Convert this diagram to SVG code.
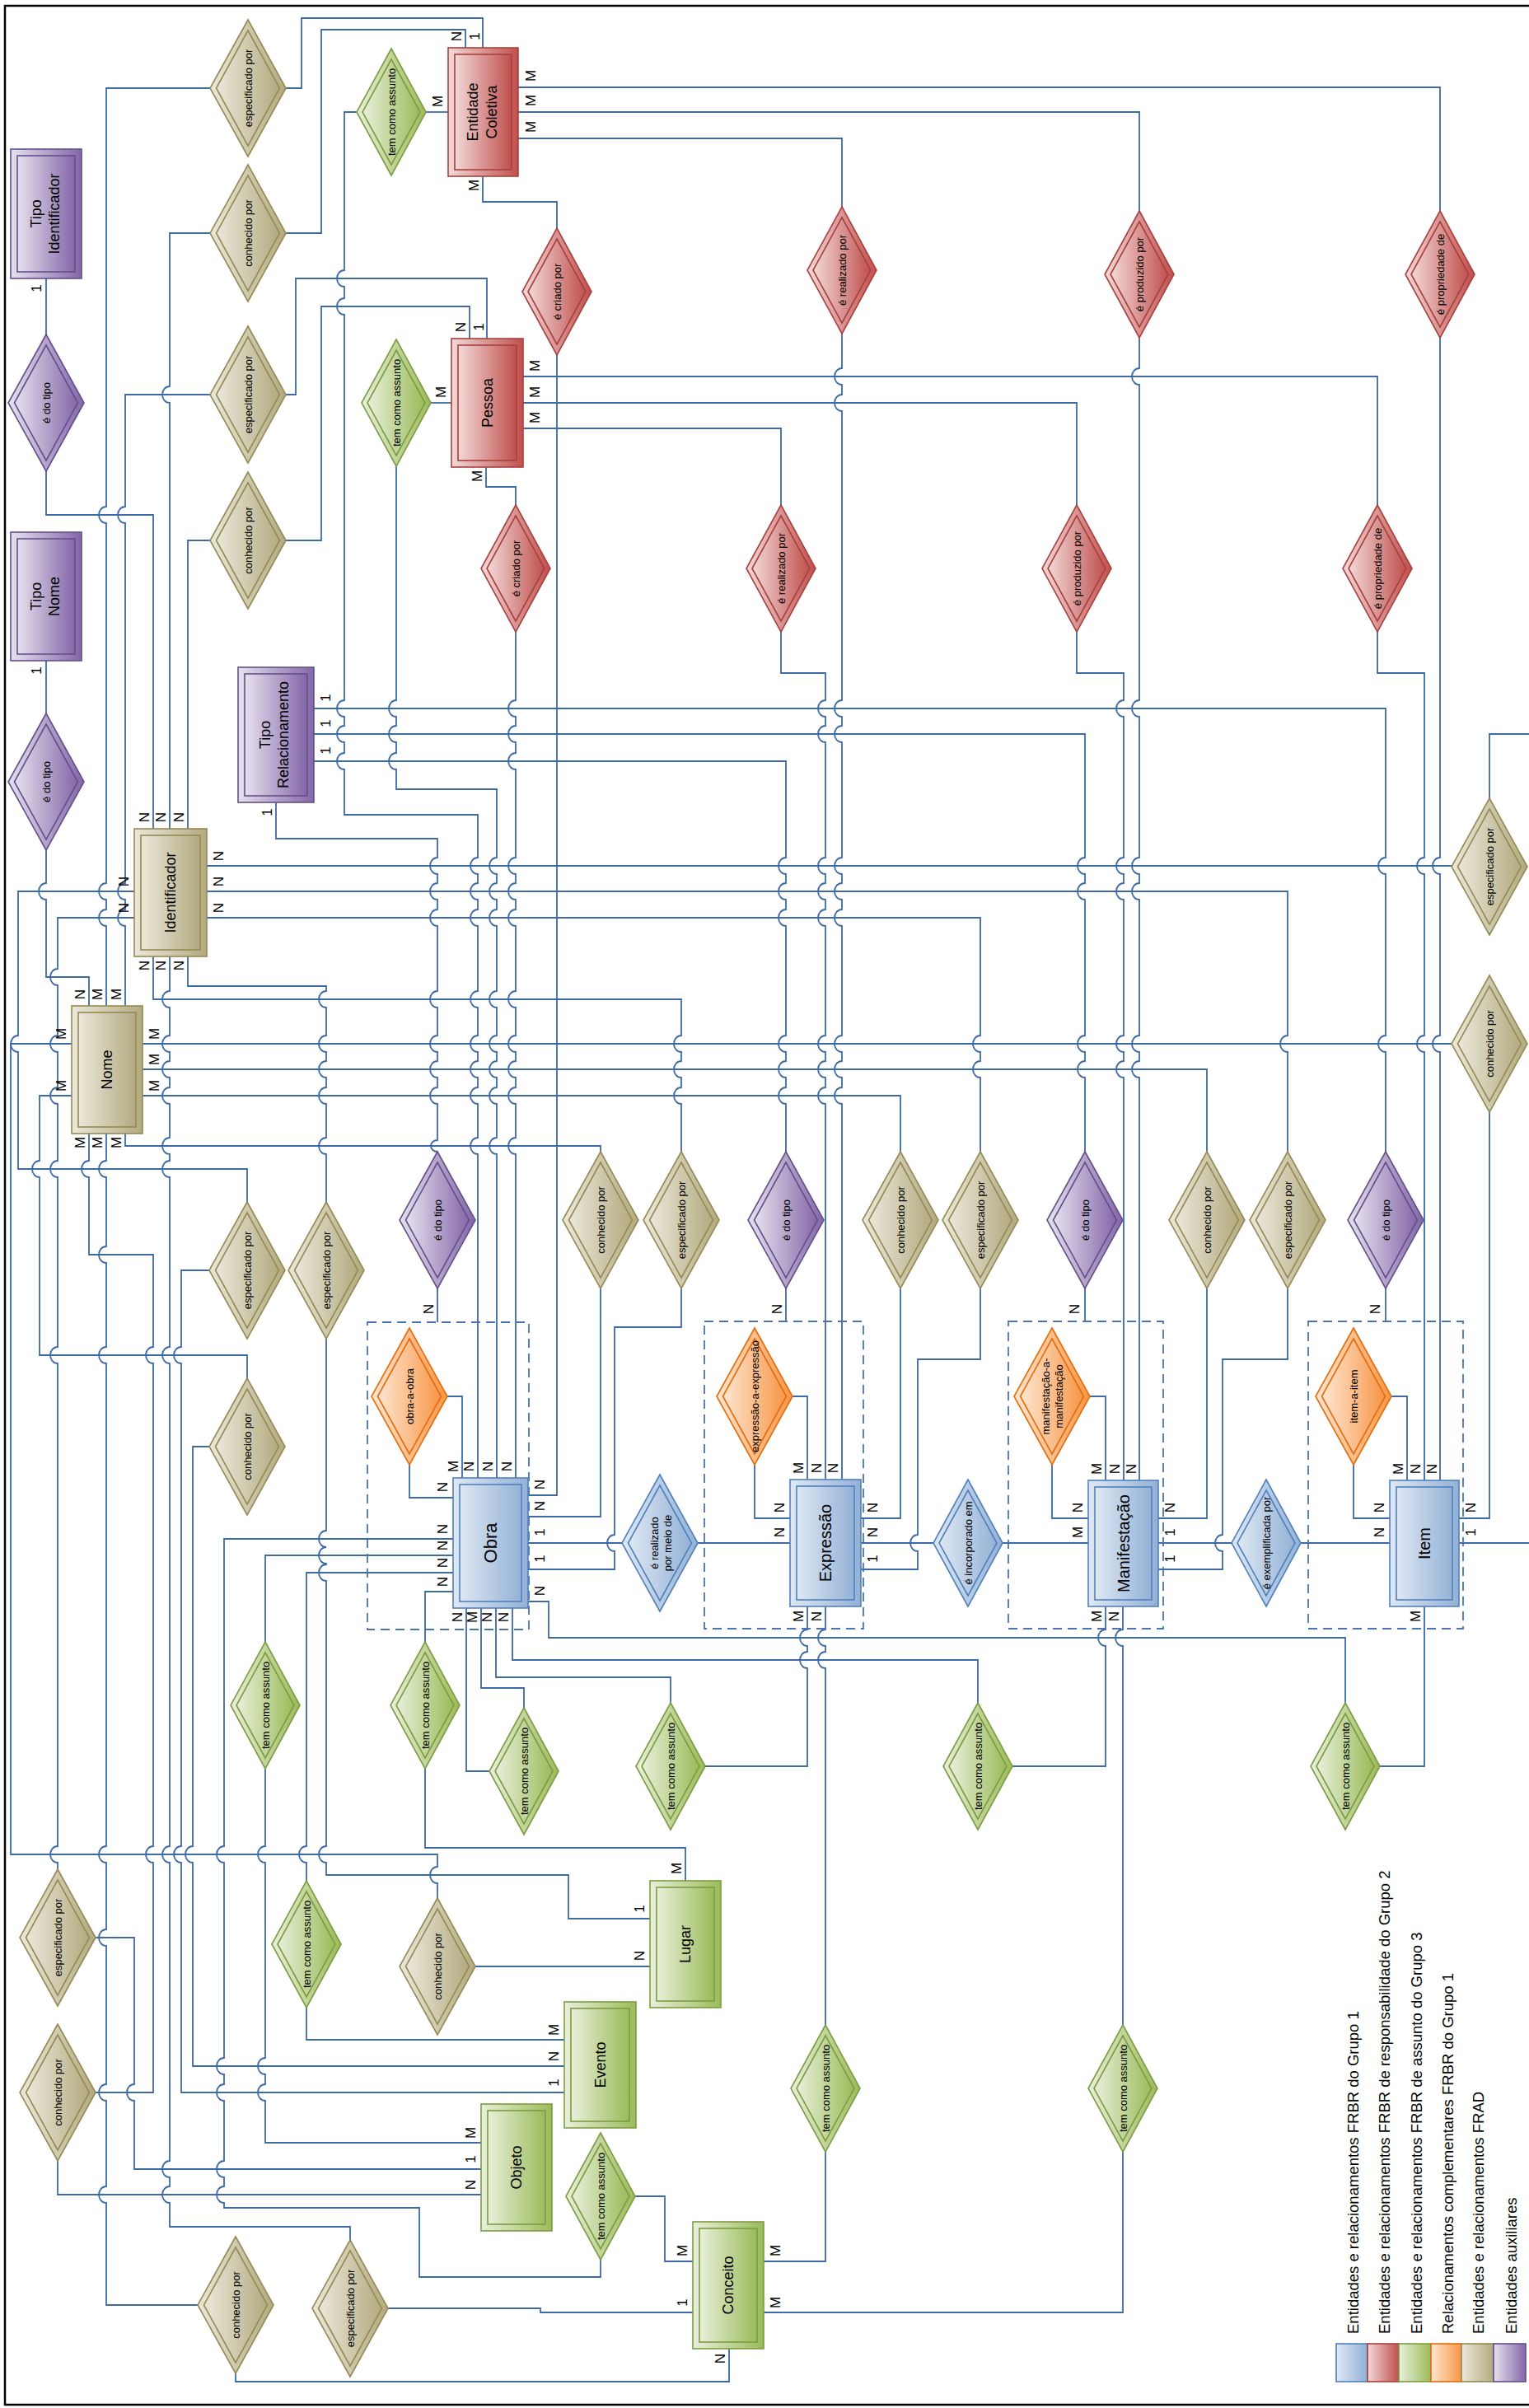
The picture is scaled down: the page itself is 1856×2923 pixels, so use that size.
<svg xmlns="http://www.w3.org/2000/svg" width="1856" height="2923" viewBox="0 0 1856 2923">
<style>
.c{fill:none;stroke:#3d6aa6;stroke-width:1.8}
.dash{fill:none;stroke:#4a74ad;stroke-width:1.8;stroke-dasharray:11 7}
text{font-family:"Liberation Sans",Arial,sans-serif;fill:#000;text-anchor:middle;dominant-baseline:central}
.lb{font-size:17px}
.dt{font-size:13px}
.et{font-size:18px}
.eb{font-size:20px}
.lg{font-size:18.5px;text-anchor:start}
.blue{fill:url(#gB);stroke:#4f81bd;stroke-width:1.6}
.red{fill:url(#gR);stroke:#a9403d;stroke-width:1.6}
.green{fill:url(#gG);stroke:#7e9b43;stroke-width:1.6}
.orange{fill:url(#gO);stroke:#e46c0a;stroke-width:1.6}
.tan{fill:url(#gT);stroke:#948a54;stroke-width:1.6}
.purple{fill:url(#gP);stroke:#62508a;stroke-width:1.6}
</style>
<defs>
<linearGradient id="gB" x1="0" y1="0" x2="1" y2="0"><stop offset="0" stop-color="#dfe8f3"/><stop offset="1" stop-color="#93b1d6"/></linearGradient>
<linearGradient id="gR" x1="0" y1="0" x2="1" y2="0"><stop offset="0" stop-color="#f2d9d8"/><stop offset="1" stop-color="#c0504d"/></linearGradient>
<linearGradient id="gG" x1="0" y1="0" x2="1" y2="0"><stop offset="0" stop-color="#e8f0db"/><stop offset="1" stop-color="#9bbb59"/></linearGradient>
<linearGradient id="gO" x1="0" y1="0" x2="1" y2="0"><stop offset="0" stop-color="#fee6d2"/><stop offset="1" stop-color="#f79646"/></linearGradient>
<linearGradient id="gT" x1="0" y1="0" x2="1" y2="0"><stop offset="0" stop-color="#ebe8da"/><stop offset="1" stop-color="#b3aa80"/></linearGradient>
<linearGradient id="gP" x1="0" y1="0" x2="1" y2="0"><stop offset="0" stop-color="#e6e1ee"/><stop offset="1" stop-color="#8466a8"/></linearGradient>
<g id="dBig"><polygon points="0,-83 46,0 0,83 -46,0"/><polygon points="0,-70 38.5,0 0,70 -38.5,0"/></g>
<g id="dSm"><polygon points="0,-77 42,0 0,77 -42,0"/><polygon points="0,-64 35,0 0,64 -35,0"/></g>
</defs>
<rect width="1856" height="2923" fill="#fff"/>
<path d="M1856 7 H6 V2919 H1856" fill="none" stroke="#000" stroke-width="2.5"/>

<g id="connectors">
<path class="c" d="M56 338 V406"/>
<path class="c" d="M56 572 V625 H186 V1006"/>
<path class="c" d="M56 802 V866"/>
<path class="c" d="M56 1032 V1072 A9 10 0 0 0 56 1092 V1186 H108 V1221"/>
<path class="c" d="M255 107 H129 V615 A9 10 0 0 0 129 635 V1072 A9 10 0 0 0 129 1092 V1104 A9 10 0 0 0 129 1124 V1221"/>
<path class="c" d="M347 107 H366 V22 H586 V58"/>
<path class="c" d="M255 283 H206 V469 A9 10 0 0 0 206 489 V1006"/>
<path class="c" d="M347 283 H390 V36 H565 V58"/>
<path class="c" d="M255 479 H152 V615 A9 10 0 0 0 152 635 V1072 A9 10 0 0 0 152 1092 V1104 A9 10 0 0 0 152 1124 V1221"/>
<path class="c" d="M347 479 H359 V338 H591 V411"/>
<path class="c" d="M255 656 H228 V1006"/>
<path class="c" d="M347 656 H390 V372 H570 V411"/>
<path class="c" d="M517 136 H544"/>
<path class="c" d="M433 136 H418 V328 A9 10 0 0 0 418 348 V362 A9 10 0 0 0 418 382 V850 A9 10 0 0 0 418 870 V881 A9 10 0 0 0 418 901 V914 A9 10 0 0 0 418 934 V989 H580 V1041 A9 10 0 0 0 580 1061 V1072 A9 10 0 0 0 580 1092 V1104 A9 10 0 0 0 580 1124 V1203 A9 10 0 0 0 580 1223 V1257 A9 10 0 0 0 580 1277 V1288 A9 10 0 0 0 580 1308 V1320 A9 10 0 0 0 580 1340 V1381 A9 10 0 0 0 580 1401 V1794"/>
<path class="c" d="M523 489 H548"/>
<path class="c" d="M481 566 V850 A9 10 0 0 0 481 870 V881 A9 10 0 0 0 481 901 V914 A9 10 0 0 0 481 934 V958 H603 V1041 A9 10 0 0 0 603 1061 V1072 A9 10 0 0 0 603 1092 V1104 A9 10 0 0 0 603 1124 V1203 A9 10 0 0 0 603 1223 V1257 A9 10 0 0 0 603 1277 V1288 A9 10 0 0 0 603 1308 V1320 A9 10 0 0 0 603 1340 V1381 A9 10 0 0 0 603 1401 V1794"/>
<path class="c" d="M629 106 H1748 V256"/>
<path class="c" d="M629 136 H1383 V256"/>
<path class="c" d="M629 168 H1022 V251"/>
<path class="c" d="M586 214 V245 H676 V277"/>
<path class="c" d="M676 431 V1815 H641"/>
<path class="c" d="M1022 405 V447 A9 10 0 0 0 1022 467 V479 A9 10 0 0 0 1022 499 V850 A9 10 0 0 0 1022 870 V881 A9 10 0 0 0 1022 901 V1041 A9 10 0 0 0 1022 1061 V1072 A9 10 0 0 0 1022 1092 V1104 A9 10 0 0 0 1022 1124 V1257 A9 10 0 0 0 1022 1277 V1288 A9 10 0 0 0 1022 1308 V1320 A9 10 0 0 0 1022 1340 V1796"/>
<path class="c" d="M1383 410 V447 A9 10 0 0 0 1383 467 V850 A9 10 0 0 0 1383 870 V1041 A9 10 0 0 0 1383 1061 V1072 A9 10 0 0 0 1383 1092 V1257 A9 10 0 0 0 1383 1277 V1288 A9 10 0 0 0 1383 1308 V1797"/>
<path class="c" d="M1748 410 V1041 A9 10 0 0 0 1748 1061 V1257 A9 10 0 0 0 1748 1277 V1797"/>
<path class="c" d="M635 457 H1672 V613"/>
<path class="c" d="M635 489 H1307 V613"/>
<path class="c" d="M635 520 H948 V613"/>
<path class="c" d="M590 567 V591 H626 V613"/>
<path class="c" d="M626 767 V850 A9 10 0 0 0 626 870 V881 A9 10 0 0 0 626 901 V914 A9 10 0 0 0 626 934 V1041 A9 10 0 0 0 626 1061 V1072 A9 10 0 0 0 626 1092 V1104 A9 10 0 0 0 626 1124 V1203 A9 10 0 0 0 626 1223 V1257 A9 10 0 0 0 626 1277 V1288 A9 10 0 0 0 626 1308 V1320 A9 10 0 0 0 626 1340 V1381 A9 10 0 0 0 626 1401 V1794"/>
<path class="c" d="M948 767 V817 H1002 V850 A9 10 0 0 0 1002 870 V881 A9 10 0 0 0 1002 901 V1041 A9 10 0 0 0 1002 1061 V1072 A9 10 0 0 0 1002 1092 V1104 A9 10 0 0 0 1002 1124 V1257 A9 10 0 0 0 1002 1277 V1288 A9 10 0 0 0 1002 1308 V1320 A9 10 0 0 0 1002 1340 V1796"/>
<path class="c" d="M1307 767 V817 H1364 V850 A9 10 0 0 0 1364 870 V1041 A9 10 0 0 0 1364 1061 V1072 A9 10 0 0 0 1364 1092 V1257 A9 10 0 0 0 1364 1277 V1288 A9 10 0 0 0 1364 1308 V1797"/>
<path class="c" d="M1672 767 V817 H1729 V1041 A9 10 0 0 0 1729 1061 V1257 A9 10 0 0 0 1729 1277 V1797"/>
<path class="c" d="M335 974 V1018 H531 V1041 A9 10 0 0 0 531 1061 V1072 A9 10 0 0 0 531 1092 V1104 A9 10 0 0 0 531 1124 V1203 A9 10 0 0 0 531 1223 V1257 A9 10 0 0 0 531 1277 V1288 A9 10 0 0 0 531 1308 V1320 A9 10 0 0 0 531 1340 V1384 A8 7 0 0 0 531 1398"/>
<path class="c" d="M381 860 H1682 V1041 A9 10 0 0 0 1682 1061 V1257 A9 10 0 0 0 1682 1277 V1398"/>
<path class="c" d="M381 891 H1317 V1041 A9 10 0 0 0 1317 1061 V1072 A9 10 0 0 0 1317 1092 V1257 A9 10 0 0 0 1317 1277 V1288 A9 10 0 0 0 1317 1308 V1398"/>
<path class="c" d="M381 924 H954 V1041 A9 10 0 0 0 954 1061 V1072 A9 10 0 0 0 954 1092 V1104 A9 10 0 0 0 954 1124 V1257 A9 10 0 0 0 954 1277 V1288 A9 10 0 0 0 954 1308 V1320 A9 10 0 0 0 954 1340 V1398"/>
<path class="c" d="M531 1564 V1605"/>
<path class="c" d="M954 1564 V1604"/>
<path class="c" d="M1317 1564 V1604"/>
<path class="c" d="M1682 1564 V1604"/>
<path class="c" d="M543 1695 H561 V1794"/>
<path class="c" d="M497 1778 V1818 H550"/>
<path class="c" d="M962 1695 H980 V1796"/>
<path class="c" d="M916 1778 V1843 H959"/>
<path class="c" d="M1323 1695 H1342 V1797"/>
<path class="c" d="M1277 1778 V1843 H1321"/>
<path class="c" d="M1689 1695 H1708 V1797"/>
<path class="c" d="M1643 1778 V1843 H1687"/>
<path class="c" d="M641 1873 H755"/>
<path class="c" d="M847 1873 H959"/>
<path class="c" d="M1045 1873 H1133"/>
<path class="c" d="M1217 1873 H1321"/>
<path class="c" d="M1406 1873 H1495"/>
<path class="c" d="M1579 1873 H1687"/>
<path class="c" d="M1771 1873 H1856"/>
<path class="c" d="M641 1841 H729 V1564"/>
<path class="c" d="M641 1905 H746 V1883 A9 10 0 0 1 746 1863 V1611 H827 V1564"/>
<path class="c" d="M1045 1843 H1093 V1564"/>
<path class="c" d="M1045 1905 H1114 V1883 A9 10 0 0 1 1114 1863 V1650 H1190 V1564"/>
<path class="c" d="M1406 1843 H1465 V1564"/>
<path class="c" d="M1406 1905 H1484 V1883 A9 10 0 0 1 1484 1863 V1650 H1563 V1564"/>
<path class="c" d="M1771 1843 H1808 V1350"/>
<path class="c" d="M1808 969 V891 H1856"/>
<path class="c" d="M251 1051 H1762"/>
<path class="c" d="M251 1082 H1563 V1257 A9 10 0 0 0 1563 1277 V1398"/>
<path class="c" d="M251 1114 H1190 V1257 A9 10 0 0 0 1190 1277 V1288 A9 10 0 0 0 1190 1308 V1398"/>
<path class="c" d="M173 1267 H1762"/>
<path class="c" d="M173 1298 H1465 V1398"/>
<path class="c" d="M173 1330 H1093 V1398"/>
<path class="c" d="M186 1161 V1213 H827 V1257 A9 10 0 0 0 827 1277 V1288 A9 10 0 0 0 827 1308 V1320 A9 10 0 0 0 827 1340 V1398"/>
<path class="c" d="M206 1161 V1203 A9 10 0 0 0 206 1223 V1257 A9 10 0 0 0 206 1277 V1288 A9 10 0 0 0 206 1308 V1320 A9 10 0 0 0 206 1340 V1381 A9 10 0 0 0 206 1401 V1409 A9 10 0 0 0 206 1429 V1635 A9 10 0 0 0 206 1655 V2241 A9 10 0 0 0 206 2261 V2623 A9 10 0 0 0 206 2643 V2654 A9 10 0 0 0 206 2674 V2703 H425 V2719"/>
<path class="c" d="M228 1161 V1197 H396 V1203 A9 10 0 0 0 396 1223 V1257 A9 10 0 0 0 396 1277 V1288 A9 10 0 0 0 396 1308 V1320 A9 10 0 0 0 396 1340 V1381 A9 10 0 0 0 396 1401 V1459"/>
<path class="c" d="M396 1625 V1858 A9 10 0 0 0 396 1878 A9 10 0 0 0 396 1898 V1899 A9 10 0 0 0 396 1919 V2241 A9 10 0 0 0 396 2261 V2276 H690 V2329 H789"/>
<path class="c" d="M108 1376 V1409 A9 10 0 0 0 108 1429 V1523 H186 V1635 A9 10 0 0 0 186 1655 V2241 A9 10 0 0 0 186 2261 V2540 H116"/>
<path class="c" d="M129 1376 V1409 A9 10 0 0 0 129 1429 V1513 A9 10 0 0 0 129 1533 V1635 A9 10 0 0 0 129 1655 V2241 A9 10 0 0 0 129 2261 V2342 A9 10 0 0 0 129 2362 V2530 A9 10 0 0 0 129 2550 V2654 A9 10 0 0 0 129 2674 V2798 H240"/>
<path class="c" d="M152 1376 V1391 H729 V1398"/>
<path class="c" d="M87 1267 H13 V2251 H531 V2266 A9 10 0 0 0 531 2286 V2304"/>
<path class="c" d="M87 1330 H48 V1409 A9 10 0 0 0 48 1429 V1645 H300 V1673"/>
<path class="c" d="M163 1082 H22 V1257 A9 10 0 0 0 22 1277 V1419 H300 V1459"/>
<path class="c" d="M163 1114 H70 V1176 A9 10 0 0 0 70 1196 V1257 A9 10 0 0 0 70 1277 V1320 A9 10 0 0 0 70 1340 V1409 A9 10 0 0 0 70 1429 V1635 A9 10 0 0 0 70 1655 V2241 A9 10 0 0 0 70 2261 V2269"/>
<path class="c" d="M254 1542 H220 V1635 A9 10 0 0 0 220 1655 V2241 A9 10 0 0 0 220 2261 V2540 H685"/>
<path class="c" d="M254 1756 H234 V2241 A9 10 0 0 0 234 2261 V2508 H685"/>
<path class="c" d="M550 1888 H322 V1993"/>
<path class="c" d="M322 2147 V2241 A9 10 0 0 0 322 2261 V2498 A9 10 0 0 0 322 2518 V2530 A9 10 0 0 0 322 2550 V2601 H584"/>
<path class="c" d="M550 1909 H372 V2241 A9 10 0 0 0 372 2261 V2283"/>
<path class="c" d="M372 2437 V2476 H685"/>
<path class="c" d="M550 1932 H516 V1993"/>
<path class="c" d="M516 2147 V2243 H832 V2283"/>
<path class="c" d="M550 1868 H272 V2241 A9 10 0 0 0 272 2261 V2498 A9 10 0 0 0 272 2518 V2530 A9 10 0 0 0 272 2550 V2623 A9 10 0 0 0 272 2643 V2654 A9 10 0 0 0 272 2674 V2680 H509 V2764 H729 V2743"/>
<path class="c" d="M771 2666 H807 V2745 H841"/>
<path class="c" d="M471 2802 H656 V2807 H841"/>
<path class="c" d="M286 2881 V2891 H885 V2851"/>
<path class="c" d="M980 1950 V1978 A9 10 0 0 0 980 1998 V2005 A9 10 0 0 0 980 2025 V2144 H856"/>
<path class="c" d="M1002 1950 V1978 A9 10 0 0 0 1002 1998 V2005 A9 10 0 0 0 1002 2025 V2458"/>
<path class="c" d="M1002 2612 V2745 H927"/>
<path class="c" d="M1342 1950 V1978 A9 10 0 0 0 1342 1998 V2144 H1229"/>
<path class="c" d="M1363 1950 V1978 A9 10 0 0 0 1363 1998 V2458"/>
<path class="c" d="M1363 2612 V2807 H927"/>
<path class="c" d="M1729 1950 V2144 H1675"/>
<path class="c" d="M641 1944 H666 V1988 H1633 V2067"/>
<path class="c" d="M566 1952 V2150 H594"/>
<path class="c" d="M584 1952 V2049 H636 V2073"/>
<path class="c" d="M602 1952 V2036 H814 V2067"/>
<path class="c" d="M622 1952 V2015 H1187 V2067"/>
<path class="c" d="M116 2352 H163 V2530 A9 10 0 0 0 163 2550 V2633 H584"/>
<path class="c" d="M70 2623 V2664 H584"/>
<path class="c" d="M577 2387 H789"/>
</g>

<g id="groups">
<rect class="dash" x="446" y="1605" width="196" height="373"/>
<rect class="dash" x="855" y="1604" width="193" height="373"/>
<rect class="dash" x="1224" y="1604" width="188" height="373"/>
<rect class="dash" x="1588" y="1604" width="188" height="373"/>
</g>

<g id="tipo-identificador"><rect class="purple" x="13" y="181" width="86" height="157"/><rect class="purple" x="21" y="189" width="70" height="141"/><text class="et" transform="translate(56 259.5) rotate(-90)"><tspan x="0" y="-12">Tipo</tspan><tspan x="0" y="10">Identificador</tspan></text></g>
<g id="tipo-nome"><rect class="purple" x="13" y="646" width="86" height="156"/><rect class="purple" x="21" y="654" width="70" height="140"/><text class="et" transform="translate(56 724) rotate(-90)"><tspan x="0" y="-12">Tipo</tspan><tspan x="0" y="10">Nome</tspan></text></g>
<g id="tipo-relacionamento"><rect class="purple" x="289" y="810" width="92" height="164"/><rect class="purple" x="297" y="818" width="76" height="148"/><text class="et" transform="translate(335 892) rotate(-90)"><tspan x="0" y="-13">Tipo</tspan><tspan x="0" y="9">Relacionamento</tspan></text></g>
<g id="identificador"><rect class="tan" x="163" y="1006" width="88" height="155"/><rect class="tan" x="171" y="1014" width="72" height="139"/><text class="et" transform="translate(207 1083.5) rotate(-90)">Identificador</text></g>
<g id="nome"><rect class="tan" x="87" y="1221" width="86" height="155"/><rect class="tan" x="95" y="1229" width="70" height="139"/><text class="et" transform="translate(130 1298.5) rotate(-90)">Nome</text></g>
<g id="entidade-coletiva"><rect class="red" x="544" y="58" width="85" height="156"/><rect class="red" x="552" y="66" width="69" height="140"/><text class="et" transform="translate(586.5 136) rotate(-90)"><tspan x="0" y="-13">Entidade</tspan><tspan x="0" y="10">Coletiva</tspan></text></g>
<g id="pessoa"><rect class="red" x="548" y="411" width="87" height="156"/><rect class="red" x="556" y="419" width="71" height="140"/><text class="et" transform="translate(591.5 489) rotate(-90)">Pessoa</text></g>
<g id="obra"><rect class="blue" x="550" y="1794" width="91" height="158"/><rect class="blue" x="558" y="1802" width="75" height="142"/><text class="eb" style="font-size:22px" transform="translate(595.5 1873) rotate(-90)">Obra</text></g>
<g id="expressao"><rect class="blue" x="959" y="1796" width="86" height="154"/><rect class="blue" x="967" y="1804" width="70" height="138"/><text class="eb" transform="translate(1002 1873) rotate(-90)">Expressão</text></g>
<g id="manifestacao"><rect class="blue" x="1321" y="1797" width="85" height="153"/><rect class="blue" x="1329" y="1805" width="69" height="137"/><text class="eb" transform="translate(1363.5 1873.5) rotate(-90)">Manifestação</text></g>
<g id="item"><rect class="blue" x="1687" y="1797" width="84" height="153"/><rect class="blue" x="1695" y="1805" width="68" height="137"/><text class="eb" transform="translate(1729 1873.5) rotate(-90)">Item</text></g>
<g id="lugar"><rect class="green" x="789" y="2283" width="86" height="154"/><rect class="green" x="797" y="2291" width="70" height="138"/><text class="et" transform="translate(832 2360) rotate(-90)">Lugar</text></g>
<g id="evento"><rect class="green" x="685" y="2430" width="87" height="153"/><rect class="green" x="693" y="2438" width="71" height="137"/><text class="et" transform="translate(728.5 2506.5) rotate(-90)">Evento</text></g>
<g id="objeto"><rect class="green" x="584" y="2554" width="86" height="154"/><rect class="green" x="592" y="2562" width="70" height="138"/><text class="et" transform="translate(627 2631) rotate(-90)">Objeto</text></g>
<g id="conceito"><rect class="green" x="841" y="2697" width="86" height="154"/><rect class="green" x="849" y="2705" width="70" height="138"/><text class="et" transform="translate(884 2774) rotate(-90)">Conceito</text></g>

<g id="e-do-tipo-1"><use href="#dBig" x="56" y="489" class="purple"/><text class="dt" transform="translate(56 489) rotate(-90)">é do tipo</text></g>
<g id="e-do-tipo-2"><use href="#dBig" x="56" y="949" class="purple"/><text class="dt" transform="translate(56 949) rotate(-90)">é do tipo</text></g>
<g id="e-do-tipo-3"><use href="#dBig" x="531" y="1481" class="purple"/><text class="dt" transform="translate(531 1481) rotate(-90)">é do tipo</text></g>
<g id="e-do-tipo-4"><use href="#dBig" x="954" y="1481" class="purple"/><text class="dt" transform="translate(954 1481) rotate(-90)">é do tipo</text></g>
<g id="e-do-tipo-5"><use href="#dBig" x="1317" y="1481" class="purple"/><text class="dt" transform="translate(1317 1481) rotate(-90)">é do tipo</text></g>
<g id="e-do-tipo-6"><use href="#dBig" x="1682" y="1481" class="purple"/><text class="dt" transform="translate(1682 1481) rotate(-90)">é do tipo</text></g>

<g id="esp-1"><use href="#dBig" x="301" y="107" class="tan"/><text class="dt" transform="translate(301 107) rotate(-90)">especificado por</text></g>
<g id="conh-2"><use href="#dBig" x="301" y="283" class="tan"/><text class="dt" transform="translate(301 283) rotate(-90)">conhecido por</text></g>
<g id="esp-3"><use href="#dBig" x="301" y="479" class="tan"/><text class="dt" transform="translate(301 479) rotate(-90)">especificado por</text></g>
<g id="conh-4"><use href="#dBig" x="301" y="656" class="tan"/><text class="dt" transform="translate(301 656) rotate(-90)">conhecido por</text></g>
<g id="conh-5"><use href="#dBig" x="729" y="1481" class="tan"/><text class="dt" transform="translate(729 1481) rotate(-90)">conhecido por</text></g>
<g id="esp-6"><use href="#dBig" x="827" y="1481" class="tan"/><text class="dt" transform="translate(827 1481) rotate(-90)">especificado por</text></g>
<g id="conh-7"><use href="#dBig" x="1093" y="1481" class="tan"/><text class="dt" transform="translate(1093 1481) rotate(-90)">conhecido por</text></g>
<g id="esp-8"><use href="#dBig" x="1190" y="1481" class="tan"/><text class="dt" transform="translate(1190 1481) rotate(-90)">especificado por</text></g>
<g id="conh-9"><use href="#dBig" x="1465" y="1481" class="tan"/><text class="dt" transform="translate(1465 1481) rotate(-90)">conhecido por</text></g>
<g id="esp-10"><use href="#dBig" x="1563" y="1481" class="tan"/><text class="dt" transform="translate(1563 1481) rotate(-90)">especificado por</text></g>
<g id="esp-11"><use href="#dBig" x="1808" y="1052" class="tan"/><text class="dt" transform="translate(1808 1052) rotate(-90)">especificado por</text></g>
<g id="conh-12"><use href="#dBig" x="1808" y="1267" class="tan"/><text class="dt" transform="translate(1808 1267) rotate(-90)">conhecido por</text></g>
<g id="esp-13"><use href="#dBig" x="300" y="1542" class="tan"/><text class="dt" transform="translate(300 1542) rotate(-90)">especificado por</text></g>
<g id="esp-14"><use href="#dBig" x="396" y="1542" class="tan"/><text class="dt" transform="translate(396 1542) rotate(-90)">especificado por</text></g>
<g id="conh-15"><use href="#dBig" x="300" y="1756" class="tan"/><text class="dt" transform="translate(300 1756) rotate(-90)">conhecido por</text></g>
<g id="esp-16"><use href="#dBig" x="70" y="2352" class="tan"/><text class="dt" transform="translate(70 2352) rotate(-90)">especificado por</text></g>
<g id="conh-17"><use href="#dBig" x="70" y="2540" class="tan"/><text class="dt" transform="translate(70 2540) rotate(-90)">conhecido por</text></g>
<g id="conh-18"><use href="#dBig" x="531" y="2387" class="tan"/><text class="dt" transform="translate(531 2387) rotate(-90)">conhecido por</text></g>
<g id="conh-19"><use href="#dBig" x="286" y="2798" class="tan"/><text class="dt" transform="translate(286 2798) rotate(-90)">conhecido por</text></g>
<g id="esp-20"><use href="#dBig" x="425" y="2802" class="tan"/><text class="dt" transform="translate(425 2802) rotate(-90)">especificado por</text></g>

<g id="assunto-1"><use href="#dSm" x="475" y="136" class="green"/><text class="dt" transform="translate(475 136) rotate(-90)">tem como assunto</text></g>
<g id="assunto-2"><use href="#dSm" x="481" y="489" class="green"/><text class="dt" transform="translate(481 489) rotate(-90)">tem como assunto</text></g>
<g id="assunto-3"><use href="#dSm" x="322" y="2070" class="green"/><text class="dt" transform="translate(322 2070) rotate(-90)">tem como assunto</text></g>
<g id="assunto-4"><use href="#dSm" x="516" y="2070" class="green"/><text class="dt" transform="translate(516 2070) rotate(-90)">tem como assunto</text></g>
<g id="assunto-5"><use href="#dSm" x="636" y="2150" class="green"/><text class="dt" transform="translate(636 2150) rotate(-90)">tem como assunto</text></g>
<g id="assunto-6"><use href="#dSm" x="814" y="2144" class="green"/><text class="dt" transform="translate(814 2144) rotate(-90)">tem como assunto</text></g>
<g id="assunto-7"><use href="#dSm" x="1187" y="2144" class="green"/><text class="dt" transform="translate(1187 2144) rotate(-90)">tem como assunto</text></g>
<g id="assunto-8"><use href="#dSm" x="1633" y="2144" class="green"/><text class="dt" transform="translate(1633 2144) rotate(-90)">tem como assunto</text></g>
<g id="assunto-9"><use href="#dSm" x="372" y="2360" class="green"/><text class="dt" transform="translate(372 2360) rotate(-90)">tem como assunto</text></g>
<g id="assunto-10"><use href="#dSm" x="729" y="2666" class="green"/><text class="dt" transform="translate(729 2666) rotate(-90)">tem como assunto</text></g>
<g id="assunto-11"><use href="#dSm" x="1002" y="2535" class="green"/><text class="dt" transform="translate(1002 2535) rotate(-90)">tem como assunto</text></g>
<g id="assunto-12"><use href="#dSm" x="1363" y="2535" class="green"/><text class="dt" transform="translate(1363 2535) rotate(-90)">tem como assunto</text></g>

<g id="criado-1"><use href="#dSm" x="676" y="354" class="red"/><text class="dt" transform="translate(676 354) rotate(-90)">é criado por</text></g>
<g id="realizado-1"><use href="#dSm" x="1022" y="328" class="red"/><text class="dt" transform="translate(1022 328) rotate(-90)">é realizado por</text></g>
<g id="produzido-1"><use href="#dSm" x="1383" y="333" class="red"/><text class="dt" transform="translate(1383 333) rotate(-90)">é produzido por</text></g>
<g id="propriedade-1"><use href="#dSm" x="1748" y="333" class="red"/><text class="dt" transform="translate(1748 333) rotate(-90)">é propriedade de</text></g>
<g id="criado-2"><use href="#dSm" x="626" y="690" class="red"/><text class="dt" transform="translate(626 690) rotate(-90)">é criado por</text></g>
<g id="realizado-2"><use href="#dSm" x="948" y="690" class="red"/><text class="dt" transform="translate(948 690) rotate(-90)">é realizado por</text></g>
<g id="produzido-2"><use href="#dSm" x="1307" y="690" class="red"/><text class="dt" transform="translate(1307 690) rotate(-90)">é produzido por</text></g>
<g id="propriedade-2"><use href="#dSm" x="1672" y="690" class="red"/><text class="dt" transform="translate(1672 690) rotate(-90)">é propriedade de</text></g>

<g id="realizado-meio"><use href="#dBig" x="801" y="1873" class="blue"/><text class="dt" transform="translate(801 1873) rotate(-90)"><tspan x="0" y="-7">é realizado</tspan><tspan x="0" y="9">por meio de</tspan></text></g>
<g id="incorporado"><use href="#dSm" x="1175" y="1873" class="blue"/><text class="dt" transform="translate(1175 1873) rotate(-90)">é incorporado em</text></g>
<g id="exemplificada"><use href="#dSm" x="1537" y="1873" class="blue"/><text class="dt" transform="translate(1537 1873) rotate(-90)">é exemplificada por</text></g>

<g id="obra-a-obra"><use href="#dBig" x="497" y="1695" class="orange"/><text class="dt" transform="translate(497 1695) rotate(-90)">obra-a-obra</text></g>
<g id="expressao-a-expressao"><use href="#dBig" x="916" y="1695" class="orange"/><text class="dt" transform="translate(916 1695) rotate(-90)">expressão-a-expressão</text></g>
<g id="manifestacao-a-manifestacao"><use href="#dBig" x="1277" y="1695" class="orange"/><text class="dt" transform="translate(1277 1695) rotate(-90)"><tspan x="0" y="-8">manifestação-a-</tspan><tspan x="0" y="8">manifestação</tspan></text></g>
<g id="item-a-item"><use href="#dBig" x="1643" y="1695" class="orange"/><text class="dt" transform="translate(1643 1695) rotate(-90)">item-a-item</text></g>

<g id="cardinalities">
<text class="lb" transform="translate(44 350) rotate(-90)">1</text>
<text class="lb" transform="translate(44 814) rotate(-90)">1</text>
<text class="lb" transform="translate(175 992) rotate(-90)">N</text>
<text class="lb" transform="translate(195 992) rotate(-90)">N</text>
<text class="lb" transform="translate(217 992) rotate(-90)">N</text>
<text class="lb" transform="translate(175 1172) rotate(-90)">N</text>
<text class="lb" transform="translate(195 1172) rotate(-90)">N</text>
<text class="lb" transform="translate(217 1172) rotate(-90)">N</text>
<text class="lb" transform="translate(150 1070) rotate(-90)">N</text>
<text class="lb" transform="translate(150 1102) rotate(-90)">N</text>
<text class="lb" transform="translate(265 1039) rotate(-90)">N</text>
<text class="lb" transform="translate(265 1070) rotate(-90)">N</text>
<text class="lb" transform="translate(265 1102) rotate(-90)">N</text>
<text class="lb" transform="translate(97 1207) rotate(-90)">N</text>
<text class="lb" transform="translate(118 1207) rotate(-90)">M</text>
<text class="lb" transform="translate(141 1207) rotate(-90)">M</text>
<text class="lb" transform="translate(97 1387) rotate(-90)">M</text>
<text class="lb" transform="translate(118 1387) rotate(-90)">M</text>
<text class="lb" transform="translate(141 1387) rotate(-90)">M</text>
<text class="lb" transform="translate(74 1255) rotate(-90)">M</text>
<text class="lb" transform="translate(74 1318) rotate(-90)">M</text>
<text class="lb" transform="translate(187 1255) rotate(-90)">M</text>
<text class="lb" transform="translate(187 1286) rotate(-90)">M</text>
<text class="lb" transform="translate(187 1318) rotate(-90)">M</text>
<text class="lb" transform="translate(554 44) rotate(-90)">N</text>
<text class="lb" transform="translate(576 44) rotate(-90)">1</text>
<text class="lb" transform="translate(531 123) rotate(-90)">M</text>
<text class="lb" transform="translate(644 92) rotate(-90)">M</text>
<text class="lb" transform="translate(644 122) rotate(-90)">M</text>
<text class="lb" transform="translate(644 154) rotate(-90)">M</text>
<text class="lb" transform="translate(575 225) rotate(-90)">M</text>
<text class="lb" transform="translate(559 397) rotate(-90)">N</text>
<text class="lb" transform="translate(581 397) rotate(-90)">1</text>
<text class="lb" transform="translate(535 476) rotate(-90)">M</text>
<text class="lb" transform="translate(649 444) rotate(-90)">M</text>
<text class="lb" transform="translate(649 476) rotate(-90)">M</text>
<text class="lb" transform="translate(649 507) rotate(-90)">M</text>
<text class="lb" transform="translate(579 578) rotate(-90)">M</text>
<text class="lb" transform="translate(395 847) rotate(-90)">1</text>
<text class="lb" transform="translate(395 878) rotate(-90)">1</text>
<text class="lb" transform="translate(395 911) rotate(-90)">1</text>
<text class="lb" transform="translate(324 986) rotate(-90)">1</text>
<text class="lb" transform="translate(520 1589) rotate(-90)">N</text>
<text class="lb" transform="translate(943 1589) rotate(-90)">N</text>
<text class="lb" transform="translate(1304 1589) rotate(-90)">N</text>
<text class="lb" transform="translate(1669 1589) rotate(-90)">N</text>
<text class="lb" transform="translate(550 1780) rotate(-90)">M</text>
<text class="lb" transform="translate(569 1780) rotate(-90)">N</text>
<text class="lb" transform="translate(592 1780) rotate(-90)">N</text>
<text class="lb" transform="translate(615 1780) rotate(-90)">N</text>
<text class="lb" transform="translate(537 1805) rotate(-90)">N</text>
<text class="lb" transform="translate(537 1856) rotate(-90)">N</text>
<text class="lb" transform="translate(537 1876) rotate(-90)">N</text>
<text class="lb" transform="translate(537 1897) rotate(-90)">N</text>
<text class="lb" transform="translate(537 1920) rotate(-90)">N</text>
<text class="lb" transform="translate(655 1802) rotate(-90)">N</text>
<text class="lb" transform="translate(655 1828) rotate(-90)">N</text>
<text class="lb" transform="translate(655 1860) rotate(-90)">1</text>
<text class="lb" transform="translate(655 1892) rotate(-90)">1</text>
<text class="lb" transform="translate(655 1931) rotate(-90)">N</text>
<text class="lb" transform="translate(555 1963) rotate(-90)">N</text>
<text class="lb" transform="translate(573 1963) rotate(-90)">M</text>
<text class="lb" transform="translate(591 1963) rotate(-90)">N</text>
<text class="lb" transform="translate(611 1963) rotate(-90)">N</text>
<text class="lb" transform="translate(969 1782) rotate(-90)">M</text>
<text class="lb" transform="translate(991 1782) rotate(-90)">N</text>
<text class="lb" transform="translate(1011 1782) rotate(-90)">N</text>
<text class="lb" transform="translate(946 1830) rotate(-90)">N</text>
<text class="lb" transform="translate(946 1860) rotate(-90)">N</text>
<text class="lb" transform="translate(1059 1830) rotate(-90)">N</text>
<text class="lb" transform="translate(1059 1860) rotate(-90)">N</text>
<text class="lb" transform="translate(1059 1892) rotate(-90)">1</text>
<text class="lb" transform="translate(969 1962) rotate(-90)">M</text>
<text class="lb" transform="translate(991 1962) rotate(-90)">N</text>
<text class="lb" transform="translate(1331 1783) rotate(-90)">M</text>
<text class="lb" transform="translate(1353 1783) rotate(-90)">N</text>
<text class="lb" transform="translate(1373 1783) rotate(-90)">N</text>
<text class="lb" transform="translate(1308 1830) rotate(-90)">N</text>
<text class="lb" transform="translate(1308 1860) rotate(-90)">M</text>
<text class="lb" transform="translate(1420 1830) rotate(-90)">N</text>
<text class="lb" transform="translate(1420 1860) rotate(-90)">1</text>
<text class="lb" transform="translate(1420 1892) rotate(-90)">1</text>
<text class="lb" transform="translate(1331 1962) rotate(-90)">M</text>
<text class="lb" transform="translate(1352 1962) rotate(-90)">N</text>
<text class="lb" transform="translate(1697 1783) rotate(-90)">M</text>
<text class="lb" transform="translate(1718 1783) rotate(-90)">N</text>
<text class="lb" transform="translate(1738 1783) rotate(-90)">N</text>
<text class="lb" transform="translate(1674 1830) rotate(-90)">N</text>
<text class="lb" transform="translate(1674 1860) rotate(-90)">N</text>
<text class="lb" transform="translate(1785 1830) rotate(-90)">N</text>
<text class="lb" transform="translate(1785 1860) rotate(-90)">1</text>
<text class="lb" transform="translate(1718 1962) rotate(-90)">M</text>
<text class="lb" transform="translate(821 2268) rotate(-90)">M</text>
<text class="lb" transform="translate(776 2317) rotate(-90)">1</text>
<text class="lb" transform="translate(776 2374) rotate(-90)">N</text>
<text class="lb" transform="translate(672 2464) rotate(-90)">M</text>
<text class="lb" transform="translate(672 2496) rotate(-90)">N</text>
<text class="lb" transform="translate(672 2528) rotate(-90)">1</text>
<text class="lb" transform="translate(571 2589) rotate(-90)">M</text>
<text class="lb" transform="translate(571 2621) rotate(-90)">1</text>
<text class="lb" transform="translate(571 2652) rotate(-90)">N</text>
<text class="lb" transform="translate(828 2732) rotate(-90)">M</text>
<text class="lb" transform="translate(828 2795) rotate(-90)">1</text>
<text class="lb" transform="translate(941 2732) rotate(-90)">M</text>
<text class="lb" transform="translate(941 2795) rotate(-90)">M</text>
<text class="lb" transform="translate(874 2863) rotate(-90)">N</text>
</g>

<g id="legend">
<rect class="blue" x="1622" y="2845" width="38" height="46"/>
<rect class="red" x="1660" y="2845" width="38" height="46"/>
<rect class="green" x="1698" y="2845" width="39" height="46"/>
<rect class="orange" x="1737" y="2845" width="37" height="46"/>
<rect class="tan" x="1774" y="2845" width="39" height="46"/>
<rect class="purple" x="1813" y="2845" width="39" height="46"/>
<text class="lg" transform="translate(1642 2833) rotate(-90)">Entidades e relacionamentos FRBR do Grupo 1</text>
<text class="lg" transform="translate(1680 2833) rotate(-90)">Entidades e relacionamentos FRBR de responsabilidade do Grupo 2</text>
<text class="lg" transform="translate(1719 2833) rotate(-90)">Entidades e relacionamentos FRBR de assunto do Grupo 3</text>
<text class="lg" transform="translate(1757 2833) rotate(-90)">Relacionamentos complementares FRBR do Grupo 1</text>
<text class="lg" transform="translate(1794 2833) rotate(-90)">Entidades e relacionamentos FRAD</text>
<text class="lg" transform="translate(1834 2833) rotate(-90)">Entidades auxiliares</text>
</g>
</svg>
